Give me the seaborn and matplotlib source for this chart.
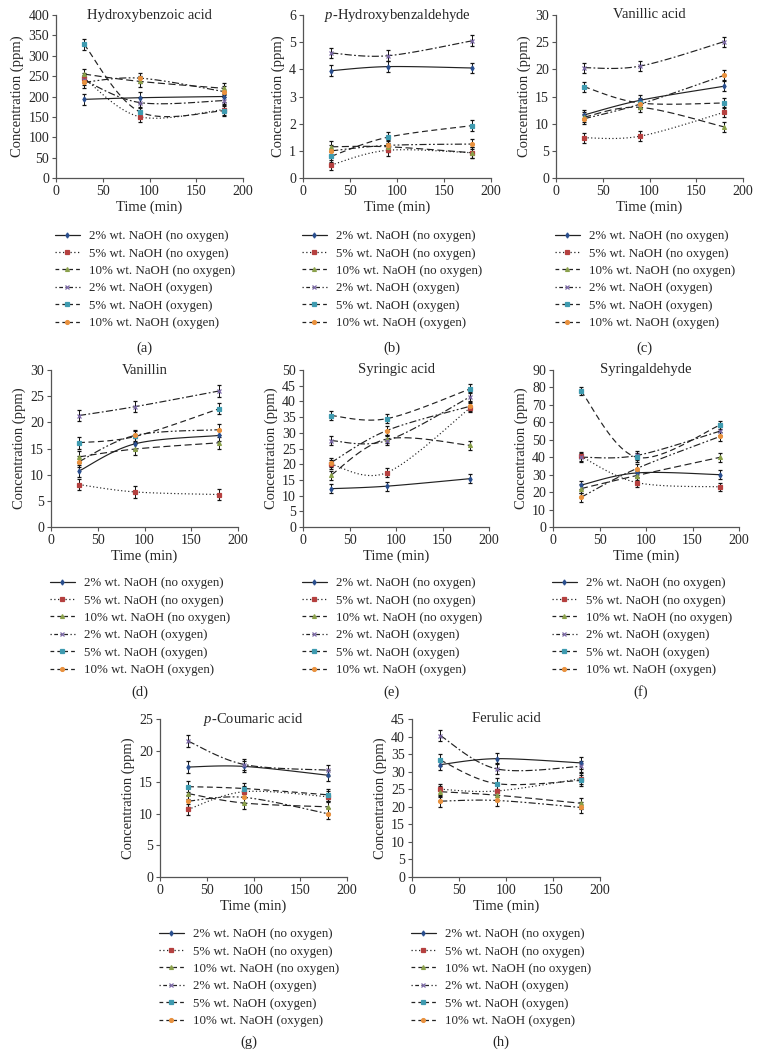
import numpy as np
import pandas as pd
import matplotlib
matplotlib.use("Agg")
import matplotlib.pyplot as plt
from matplotlib.lines import Line2D
import seaborn as sns

# ---------------- data ----------------
times = [30, 90, 180]
series_labels = [
    "2% wt. NaOH (no oxygen)",
    "5% wt. NaOH (no oxygen)",
    "10% wt. NaOH (no oxygen)",
    "2% wt. NaOH (oxygen)",
    "5% wt. NaOH (oxygen)",
    "10% wt. NaOH (oxygen)",
]

hydroxybenzoic = [[193, 197, 200], [245, 150, 168], [255, 237, 220],
                  [240, 185, 190], [328, 162, 165], [235, 245, 212]]
hydroxybenzaldehyde = [[3.95, 4.1, 4.05], [0.48, 1.02, 0.93], [1.15, 1.15, 0.93],
                       [4.6, 4.5, 5.05], [0.8, 1.5, 1.93], [1.0, 1.2, 1.25]]
vanillic = [[11.6, 14.3, 16.9], [7.4, 7.7, 12.1], [11.2, 13.0, 9.4],
            [20.3, 20.6, 25.1], [16.8, 13.8, 13.8], [10.9, 13.6, 18.9]]
vanillin = [[10.7, 15.9, 17.5], [8.1, 6.7, 6.2], [13.4, 14.9, 16.1],
            [21.3, 23.0, 26.0], [16.1, 17.3, 22.6], [12.5, 17.5, 18.6]]
syringic = [[12.2, 13.0, 15.4], [20.0, 17.3, 38.0], [16.5, 28.0, 26.0],
            [27.5, 27.5, 41.5], [35.5, 34.5, 44.0], [20.5, 30.7, 38.5]]
syringaldehyde = [[24, 31, 30], [40.5, 25.5, 23], [22, 29.5, 40],
                  [40, 41, 55], [78, 40, 58.5], [17, 33.5, 52]]
coumaric = [[17.4, 17.5, 16.1], [10.7, 13.5, 12.7], [13.2, 11.7, 11.1],
            [21.5, 17.8, 16.9], [14.3, 14.0, 13.0], [12.0, 12.6, 10.0]]
ferulic = [[32.0, 33.7, 32.5], [25.0, 24.5, 28.0], [24.3, 23.3, 21.0],
           [40.3, 30.8, 31.5], [33.3, 26.6, 27.5], [21.6, 21.8, 19.8]]

panel_titles = ["Hydroxybenzoic acid", r"$\it{p}$-Hydroxybenzaldehyde", "Vanillic acid",
                "Vanillin", "Syringic acid", "Syringaldehyde",
                r"$\it{p}$-Coumaric acid", "Ferulic acid"]
panel_letters = ["(a)", "(b)", "(c)", "(d)", "(e)", "(f)", "(g)", "(h)"]
panel_data = [hydroxybenzoic, hydroxybenzaldehyde, vanillic, vanillin,
              syringic, syringaldehyde, coumaric, ferulic]
y_max = [400, 6, 30, 30, 50, 90, 25, 45]
y_step = [50, 1, 5, 5, 5, 10, 5, 5]
err_size = [13, 0.2, 0.9, 1.1, 1.4, 2.5, 0.9, 1.6]

# ---------------- style ----------------
sns.set_style("ticks")
plt.rcParams["font.family"] = ["Liberation Serif", "DejaVu Serif"]
plt.rcParams["mathtext.fontset"] = "custom"
plt.rcParams["mathtext.it"] = "Liberation Serif:italic"
plt.rcParams["mathtext.rm"] = "Liberation Serif"

marker_colors = ["#2a4f8f", "#b5403f", "#8aa04a", "#7b68a6", "#3f9bb0", "#e8913e"]
markers = ["d", "s", "^", "x", "s", "o"]
marker_sizes = [2.6, 2.6, 2.8, 3.0, 2.6, 2.8]
dash_styles = ["-", (0, (1, 2)), (0, (6, 3)), (0, (6, 2, 1.5, 2)),
               (0, (5, 3)), (0, (6, 2, 1.5, 2, 1.5, 2))]
legend_dashes = ["-", (0, (1, 2)), (0, (3, 2.5)), (0, (1, 2, 3, 2)),
                 (0, (3, 2.5)), (0, (3, 2.5))]

W, H = 760, 1058
fig = plt.figure(figsize=(W / 100, H / 100), dpi=100)

# axes boxes in pixels: left, top, right, bottom
boxes = [(56, 15, 243, 178), (303, 15, 491, 178), (556, 15, 743, 178),
         (51, 370, 238, 527), (303, 370, 489, 527), (553, 370, 739, 527),
         (160, 719, 347, 877), (412, 719, 600, 877)]
legend_tops = [230, 230, 230, 577, 577, 577, 928, 928]
caption_y = [348, 348, 348, 692, 692, 692, 1042, 1042]


def smooth(xs, ys, sx, sy, n=60):
    """Catmull-Rom style smoothing (like Excel smoothed lines) in screen space."""
    P = np.column_stack([np.asarray(xs, float) * sx, np.asarray(ys, float) * sy])
    Pe = np.vstack([P[0], P, P[-1]])
    out = []
    for i in range(len(P) - 1):
        p0, p1, p2, p3 = Pe[i], Pe[i + 1], Pe[i + 2], Pe[i + 3]
        c1 = p1 + (p2 - p0) / 6.0
        c2 = p2 - (p3 - p1) / 6.0
        t = np.linspace(0, 1, n)[:, None]
        seg = ((1 - t) ** 3) * p1 + 3 * ((1 - t) ** 2) * t * c1 + 3 * (1 - t) * t ** 2 * c2 + t ** 3 * p2
        out.append(seg if i == 0 else seg[1:])
    out = np.vstack(out)
    return out[:, 0] / sx, out[:, 1] / sy


for k in range(8):
    l, t, r, b = boxes[k]
    ax = fig.add_axes([l / W, 1 - b / H, (r - l) / W, (b - t) / H])
    wpx, hpx = r - l, b - t
    sx = wpx / 200.0
    sy = hpx / y_max[k]
    for s in range(6):
        vals = panel_data[k][s]
        xs, ys = smooth(times, vals, sx, sy)
        df = pd.DataFrame({"x": xs, "y": ys})
        sns.lineplot(data=df, x="x", y="y", ax=ax, color="#222222", lw=0.85,
                     linestyle=dash_styles[s], estimator=None, sort=False)
        ax.errorbar(times, vals, yerr=err_size[k], fmt=markers[s], ms=marker_sizes[s],
                    mfc=marker_colors[s], mec=marker_colors[s], mew=0.9,
                    ecolor="#111111", elinewidth=0.7, capsize=1.6, capthick=0.7,
                    zorder=4)
    ax.set_xlim(0, 200)
    ax.set_ylim(0, y_max[k])
    ax.set_xticks([0, 50, 100, 150, 200])
    ax.set_yticks(np.arange(0, y_max[k] + y_step[k] / 2, y_step[k]))
    ax.set_xlabel("Time (min)", fontsize=10.5, labelpad=2)
    ax.set_ylabel("Concentration (ppm)", fontsize=10.5, labelpad=3)
    ax.tick_params(labelsize=10, length=3, width=0.8, pad=2, color="#555555")
    for sp in ["left", "bottom"]:
        ax.spines[sp].set_color("#555555")
        ax.spines[sp].set_linewidth(0.9)
    sns.despine(ax=ax)
    ax.text(0.5, 1.0, panel_titles[k], transform=ax.transAxes, ha="center",
            va="center", fontsize=10.5)

    handles = [Line2D([0], [0], color="#222222", lw=0.9, linestyle=legend_dashes[s],
                      marker=markers[s], ms=marker_sizes[s], mfc=marker_colors[s],
                      mec=marker_colors[s], mew=0.9) for s in range(6)]
    fig.legend(handles, series_labels, loc="upper left",
               bbox_to_anchor=((l - 1) / W, 1 - legend_tops[k] / H),
               frameon=False, fontsize=9.3, handlelength=1.9, handletextpad=0.7,
               labelspacing=0.42, borderpad=0, borderaxespad=0)
    fig.text(((l + r) / 2 - 5) / W, 1 - caption_y[k] / H, panel_letters[k],
             ha="center", va="center", fontsize=10.5)

fig.savefig("out.png", dpi=100)
